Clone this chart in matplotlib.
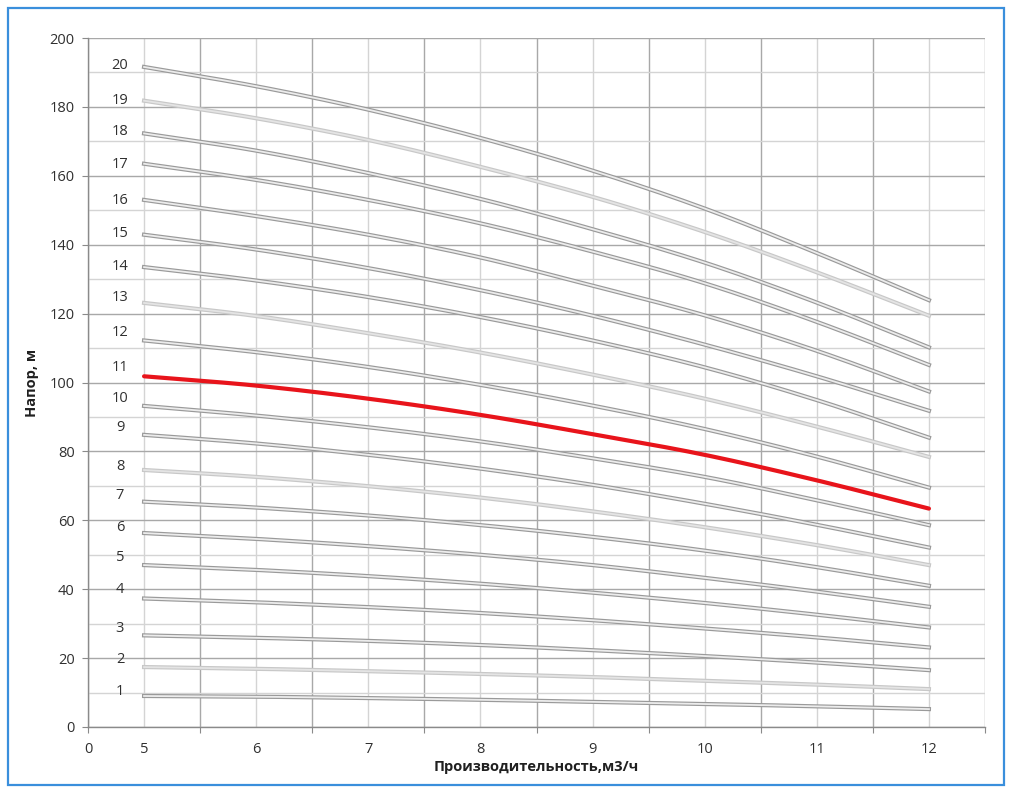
import numpy as np
import matplotlib
matplotlib.use("Agg")
import matplotlib.pyplot as plt
from matplotlib import patheffects as pe
from matplotlib.patches import Rectangle

plt.rcParams['font.family'] = ['Open Sans', 'DejaVu Sans']

# ---- data ----
flow = [5, 6, 7, 8, 9, 10, 11, 12]
stages = list(range(1, 21))
heads = {
    20: [191.6, 186.0, 179.2, 171.0, 161.5, 150.5, 137.6, 123.9],
    19: [181.8, 176.7, 170.4, 162.6, 153.9, 143.7, 132.0, 119.4],
    18: [172.3, 167.3, 160.8, 153.3, 144.5, 134.8, 123.2, 110.2],
    17: [163.5, 158.8, 153.0, 146.2, 138.0, 128.8, 117.6, 105.1],
    16: [153.0, 148.3, 142.9, 136.3, 128.1, 119.5, 109.2, 97.4],
    15: [142.9, 138.6, 133.2, 126.8, 119.4, 111.0, 101.8, 91.8],
    14: [133.5, 129.6, 124.8, 119.0, 112.2, 104.4, 94.9, 84.0],
    13: [123.1, 119.3, 114.3, 108.7, 102.3, 95.3, 87.2, 78.4],
    12: [112.2, 108.8, 104.5, 99.3, 93.3, 86.5, 78.5, 69.5],
    11: [101.8, 99.1, 95.3, 90.6, 85.0, 79.0, 71.6, 63.4],
    10: [93.2, 90.4, 87.0, 82.9, 78.0, 72.6, 65.8, 58.6],
    9:  [84.8, 82.3, 79.0, 75.0, 70.3, 64.8, 58.7, 52.1],
    8:  [74.6, 72.6, 69.9, 66.6, 62.6, 58.0, 52.8, 47.0],
    7:  [65.4, 63.7, 61.4, 58.6, 55.2, 51.2, 46.4, 41.0],
    6:  [56.3, 54.6, 52.5, 50.0, 47.0, 43.3, 39.3, 34.9],
    5:  [47.0, 45.6, 43.8, 41.6, 39.0, 36.0, 32.6, 28.9],
    4:  [37.3, 36.2, 34.8, 33.1, 31.0, 28.6, 26.0, 23.1],
    3:  [26.6, 25.9, 25.0, 23.8, 22.3, 20.6, 18.7, 16.5],
    2:  [17.4, 16.9, 16.2, 15.4, 14.5, 13.4, 12.3, 11.0],
    1:  [9.0, 8.8, 8.4, 7.9, 7.3, 6.7, 6.0, 5.2],
}
# heights at which the stage-number labels sit (left of the curves)
label_heads = {20: 191.9, 19: 182.0, 18: 173.0, 17: 163.2, 16: 152.8,
               15: 143.2, 14: 133.6, 13: 124.7, 12: 114.5, 11: 104.4,
               10: 95.4, 9: 87.0, 8: 75.7, 7: 67.1, 6: 57.8, 5: 49.3,
               4: 39.8, 3: 28.5, 2: 19.7, 1: 10.4}
label_flow = 2.85
highlight = 11
light_stages = [19, 13, 8, 2]
x_label_ticks = [5, 6, 7, 8, 9, 10, 11, 12]
x_grid_major = [0, 5.5, 6.5, 7.5, 8.5, 9.5, 10.5, 11.5, 12.5]
xlabel = "Производительность,м3/ч"
ylabel = "Напор, м"


def smooth(x, y, n=20):
    """Catmull-Rom curve through the given points (like Excel smoothed lines)."""
    x = np.asarray(x, float)
    y = np.asarray(y, float)
    P = np.column_stack([x, y])
    P = np.vstack([2*P[0]-P[1], P, 2*P[-1]-P[-2]])
    out = []
    t = np.linspace(0, 1, n, endpoint=False)[:, None]
    for i in range(1, len(P)-2):
        p0, p1, p2, p3 = P[i-1], P[i], P[i+1], P[i+2]
        seg = 0.5*((2*p1) + (-p0+p2)*t + (2*p0-5*p1+4*p2-p3)*t**2 + (-p0+3*p1-3*p2+p3)*t**3)
        out.append(seg)
    out.append(P[-2][None, :])
    out = np.vstack(out)
    return out[:, 0], out[:, 1]


# ---- figure ----
fig = plt.figure(figsize=(10.13, 7.94), dpi=100)
fig.patches.append(Rectangle((8/1013, 1-785/794), (1004-8)/1013, (785-8)/794,
                             transform=fig.transFigure, fill=False,
                             edgecolor='#3a8fdc', linewidth=1.6))
ax = fig.add_axes([88/1013, 1-727/794, (985-88)/1013, (727-38)/794])


def fwd(q):
    q = np.asarray(q, dtype=float)
    return np.where(q >= 5, 2*(q-5)+1, q/5)


def inv(s):
    s = np.asarray(s, dtype=float)
    return np.where(s >= 1, (s-1)/2+5, s*5)


ax.set_xscale('function', functions=(fwd, inv))
ax.set_xlim(0, 12.5)
ax.set_ylim(0, 200)

for st in stages:
    xs, ys = smooth(flow, heads[st])
    if st == highlight:
        ax.plot(xs, ys, color='#e8141b', lw=3.0, solid_capstyle='round', zorder=5)
    else:
        if st in light_stages:
            edge, fill = '#c8c8c8', '#e4e4e4'
        else:
            edge, fill = '#9a9a9a', '#ececec'
        ax.plot(xs, ys, color=fill, lw=1.3, zorder=4,
                path_effects=[pe.Stroke(linewidth=3.0, foreground=edge), pe.Normal()])
    ax.text(label_flow, label_heads[st], str(st), ha='center', va='center',
            fontsize=10.5, color='#303030')

# ticks & grid
ax.set_xticks(x_grid_major)
ax.set_xticklabels(['0'] + ['']*(len(x_grid_major)-1))
ax.set_xticks(x_label_ticks, minor=True)
ax.set_xticklabels([str(v) for v in x_label_ticks], minor=True)
ax.set_yticks(np.arange(0, 201, 20))
ax.set_yticks(np.arange(10, 200, 20), minor=True)

ax.tick_params(axis='both', which='major', length=4.5, color='#8a8a8a',
               labelsize=10.5, labelcolor='#303030', pad=5)
ax.tick_params(axis='x', which='major', pad=6.5)
ax.tick_params(axis='x', which='minor', length=0, labelsize=10.5,
               labelcolor='#303030', pad=11)
ax.tick_params(axis='y', which='minor', length=0)

ax.grid(which='major', color='#a8a8a8', lw=1.0)
ax.grid(which='minor', color='#d4d4d4', lw=1.0)
ax.set_axisbelow(True)

for side in ['top', 'right']:
    ax.spines[side].set_visible(False)
for side in ['left', 'bottom']:
    ax.spines[side].set_color('#8a8a8a')
    ax.spines[side].set_linewidth(1.0)

ax.set_xlabel(xlabel, fontsize=10.5, fontweight='bold', color='#202020', labelpad=2)
ax.set_ylabel(ylabel, fontsize=10.5, fontweight='bold', color='#202020', labelpad=8)

fig.savefig('out.png', dpi=100, facecolor='white')
